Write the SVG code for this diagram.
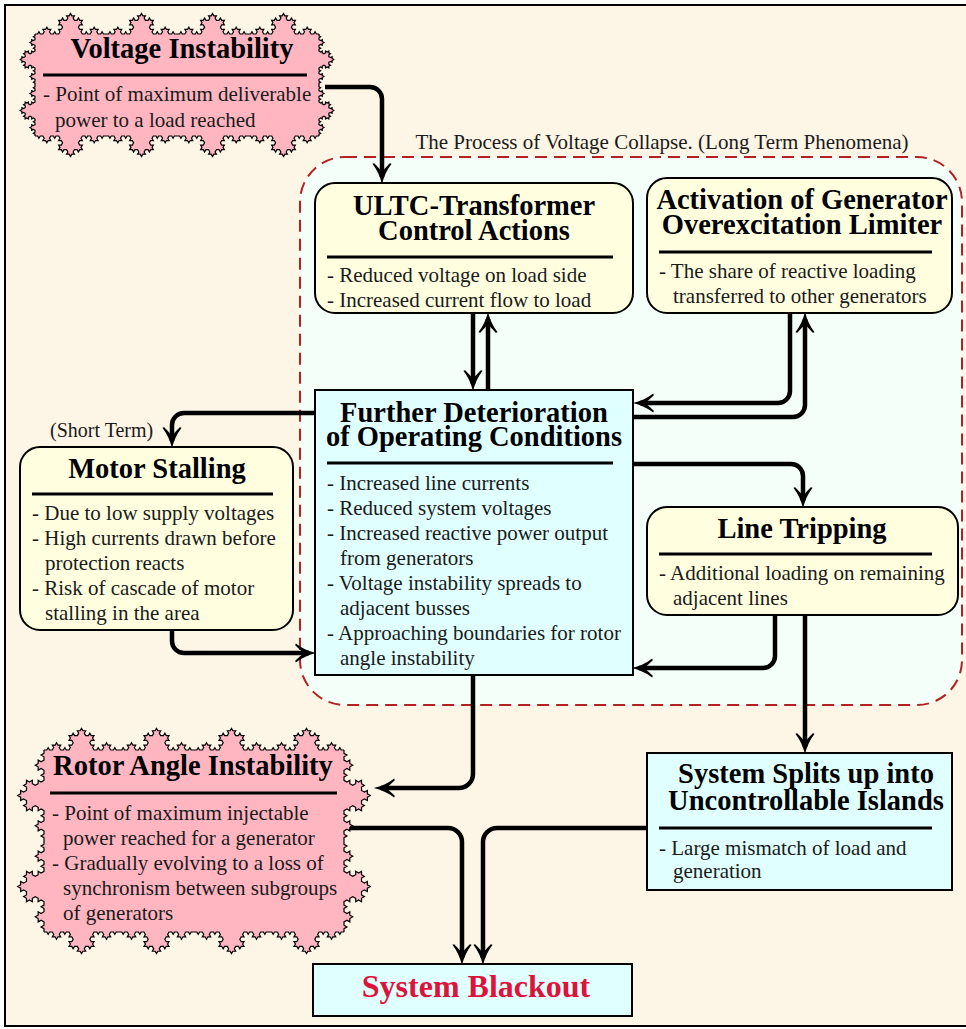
<svg xmlns="http://www.w3.org/2000/svg" xmlns:xlink="http://www.w3.org/1999/xlink" width="966" height="1029" viewBox="0 0 966 1029">
<style>
text{font-family:"Liberation Serif","Times New Roman",serif}
.t{font-weight:bold;font-size:28.5px;fill:#000;text-anchor:middle}
.b{font-size:21px;fill:#1a1a1a}
.rule{stroke:#000;stroke-width:3}
.yel{fill:#ffffe0;stroke:#000;stroke-width:2}
.cyan{fill:#e0ffff;stroke:#000;stroke-width:2}
.pink{fill:#ffb6c1;stroke:#000;stroke-width:1.2}
.pinkfill{fill:#ffb6c1}
.conn path{fill:none;stroke:#000;stroke-width:4.5;marker-end:url(#ah)}
</style>
<defs>
<marker id="ah" markerUnits="userSpaceOnUse" orient="auto" markerWidth="30" markerHeight="30" viewBox="-15 -10 25 20" refX="0" refY="0" overflow="visible">
<path d="M6,0 C0,-1.5 -6,-4 -11,-8 L-11.5,-6.5 Q-7,-2 -4,0 Q-7,2 -11.5,6.5 L-11,8 C-6,4 0,1.5 6,0 Z" fill="#000"/>
</marker>
<path id="koch" vector-effect="non-scaling-stroke" d="M0,0l1,0 .5,-.866 .5,.866 1,0 .5,-.866 -.5,-.866 1,0 .5,-.866 .5,.866 1,0 -.5,.866 .5,.866 1,0 .5,-.866 .5,.866 1,0 .5,-.866 -.5,-.866 1,0 .5,-.866 -.5,-.866 -1,0 .5,-.866 -.5,-.866 1,0 .5,-.866 .5,.866 1,0 .5,-.866 -.5,-.866 1,0 .5,-.866 .5,.866 1,0 -.5,.866 .5,.866 1,0 .5,-.866 .5,.866 1,0 -.5,.866 .5,.866 -1,0 -.5,.866 .5,.866 1,0 -.5,.866 .5,.866 1,0 .5,-.866 .5,.866 1,0 .5,-.866 -.5,-.866 1,0 .5,-.866 .5,.866 1,0 -.5,.866 .5,.866 1,0 .5,-.866 .5,.866 1,0"/>
</defs>

<rect x="5" y="5" width="1000" height="1021" fill="#fdf5e6" stroke="#000" stroke-width="2"/>

<g id="region">
<rect x="300" y="157" width="662" height="548" rx="45" fill="#f5fffa" stroke="#b22222" stroke-width="2" stroke-dasharray="12 7"/>
<text x="662" y="149" font-size="21" fill="#1a1a1a" text-anchor="middle">The Process of Voltage Collapse. (Long Term Phenomena)</text>
</g>

<g id="n-voltage">
<rect class="pinkfill" x="35" y="34" width="284" height="102"/>
<use xlink:href="#koch" class="pink" transform="translate(35,34) scale(2.6296)"/>
<use xlink:href="#koch" class="pink" transform="translate(106,34) scale(2.6296)"/>
<use xlink:href="#koch" class="pink" transform="translate(177,34) scale(2.6296)"/>
<use xlink:href="#koch" class="pink" transform="translate(248,34) scale(2.6296)"/>
<use xlink:href="#koch" class="pink" transform="translate(319,34) rotate(90) scale(1.8889)"/>
<use xlink:href="#koch" class="pink" transform="translate(319,85) rotate(90) scale(1.8889)"/>
<use xlink:href="#koch" class="pink" transform="translate(319,136) rotate(180) scale(2.6296)"/>
<use xlink:href="#koch" class="pink" transform="translate(248,136) rotate(180) scale(2.6296)"/>
<use xlink:href="#koch" class="pink" transform="translate(177,136) rotate(180) scale(2.6296)"/>
<use xlink:href="#koch" class="pink" transform="translate(106,136) rotate(180) scale(2.6296)"/>
<use xlink:href="#koch" class="pink" transform="translate(35,136) rotate(-90) scale(1.8889)"/>
<use xlink:href="#koch" class="pink" transform="translate(35,85) rotate(-90) scale(1.8889)"/>
<text class="t" x="182" y="58">Voltage Instability</text>
<line class="rule" x1="43" y1="75" x2="307" y2="75"/>
<text class="b" x="43" y="101">- Point of maximum deliverable</text>
<text class="b" x="55" y="127">power to a load reached</text>
</g>

<g id="n-ultc">
<rect class="yel" x="315" y="183" width="318" height="130" rx="20"/>
<text class="t" x="474" y="215">ULTC-Transformer</text>
<text class="t" x="474" y="240">Control Actions</text>
<line class="rule" x1="327" y1="257" x2="613" y2="257"/>
<text class="b" x="327" y="282">- Reduced voltage on load side</text>
<text class="b" x="327" y="307">- Increased current flow to load</text>
</g>

<g id="n-ovex">
<rect class="yel" x="647" y="178" width="305" height="135" rx="20"/>
<text class="t" x="802" y="209">Activation of Generator</text>
<text class="t" x="802" y="234">Overexcitation Limiter</text>
<line class="rule" x1="659" y1="252" x2="932" y2="252"/>
<text class="b" x="659" y="278">- The share of reactive loading</text>
<text class="b" x="673" y="303">transferred to other generators</text>
</g>

<g id="n-further">
<rect class="cyan" x="315" y="390" width="318" height="285"/>
<text class="t" x="474" y="422">Further Deterioration</text>
<text class="t" x="474" y="446">of Operating Conditions</text>
<line class="rule" x1="327" y1="463" x2="613" y2="463"/>
<text class="b" x="327" y="490">- Increased line currents</text>
<text class="b" x="327" y="515">- Reduced system voltages</text>
<text class="b" x="327" y="540">- Increased reactive power output</text>
<text class="b" x="340" y="565">from generators</text>
<text class="b" x="327" y="590">- Voltage instability spreads to</text>
<text class="b" x="340" y="615">adjacent busses</text>
<text class="b" x="327" y="640">- Approaching boundaries for rotor</text>
<text class="b" x="340" y="665">angle instability</text>
</g>

<g id="n-motor">
<text class="b" x="50" y="437" style="font-size:20px">(Short Term)</text>
<rect class="yel" x="20" y="447" width="273" height="183" rx="20"/>
<text class="t" x="157" y="478">Motor Stalling</text>
<line class="rule" x1="32" y1="494" x2="273" y2="494"/>
<text class="b" x="32" y="520">- Due to low supply voltages</text>
<text class="b" x="32" y="545">- High currents drawn before</text>
<text class="b" x="45" y="570">protection reacts</text>
<text class="b" x="32" y="595">- Risk of cascade of motor</text>
<text class="b" x="45" y="620">stalling in the area</text>
</g>

<g id="n-line">
<rect class="yel" x="647" y="507" width="311" height="108" rx="20"/>
<text class="t" x="802" y="538">Line Tripping</text>
<line class="rule" x1="659" y1="554" x2="932" y2="554"/>
<text class="b" x="659" y="580">- Additional loading on remaining</text>
<text class="b" x="673" y="605">adjacent lines</text>
</g>

<g id="n-rotor">
<rect class="pinkfill" x="44" y="750" width="300" height="182"/>
<use xlink:href="#koch" class="pink" transform="translate(44,750) scale(2.7778)"/>
<use xlink:href="#koch" class="pink" transform="translate(119,750) scale(2.7778)"/>
<use xlink:href="#koch" class="pink" transform="translate(194,750) scale(2.7778)"/>
<use xlink:href="#koch" class="pink" transform="translate(269,750) scale(2.7778)"/>
<use xlink:href="#koch" class="pink" transform="translate(344,750) rotate(90) scale(3.3704)"/>
<use xlink:href="#koch" class="pink" transform="translate(344,841) rotate(90) scale(3.3704)"/>
<use xlink:href="#koch" class="pink" transform="translate(344,932) rotate(180) scale(2.7778)"/>
<use xlink:href="#koch" class="pink" transform="translate(269,932) rotate(180) scale(2.7778)"/>
<use xlink:href="#koch" class="pink" transform="translate(194,932) rotate(180) scale(2.7778)"/>
<use xlink:href="#koch" class="pink" transform="translate(119,932) rotate(180) scale(2.7778)"/>
<use xlink:href="#koch" class="pink" transform="translate(44,932) rotate(-90) scale(3.3704)"/>
<use xlink:href="#koch" class="pink" transform="translate(44,841) rotate(-90) scale(3.3704)"/>
<text class="t" x="193" y="775">Rotor Angle Instability</text>
<line class="rule" x1="50" y1="793" x2="337" y2="793"/>
<text class="b" x="52" y="820">- Point of maximum injectable</text>
<text class="b" x="63" y="845">power reached for a generator</text>
<text class="b" x="52" y="870">- Gradually evolving to a loss of</text>
<text class="b" x="63" y="895">synchronism between subgroups</text>
<text class="b" x="63" y="920">of generators</text>
</g>

<g id="n-splits">
<rect class="cyan" x="647" y="753" width="305" height="137"/>
<text class="t" x="806" y="783">System Splits up into</text>
<text class="t" x="806" y="810">Uncontrollable Islands</text>
<line class="rule" x1="659" y1="828" x2="932" y2="828"/>
<text class="b" x="659" y="855">- Large mismatch of load and</text>
<text class="b" x="673" y="878">generation</text>
</g>

<g id="n-blackout">
<rect class="cyan" x="313" y="964" width="319" height="52"/>
<text class="t" x="476" y="997" style="fill:#dc143c;font-size:32px">System Blackout</text>
</g>

<g id="connectors" class="conn">
<path d="M325,87 H370 A12,12 0 0 1 382,99 V177"/>
<path d="M473,313 V384"/>
<path d="M488,390 V319"/>
<path d="M790,313 V391 A12,12 0 0 1 778,403 H640"/>
<path d="M633,417 H793 A12,12 0 0 0 805,405 V319"/>
<path d="M315,413 H184 A12,12 0 0 0 172,425 V441"/>
<path d="M172,630 V641 A12,12 0 0 0 184,653 H309"/>
<path d="M633,464 H791 A12,12 0 0 1 803,476 V501"/>
<path d="M775,615 V656 A12,12 0 0 1 763,668 H639"/>
<path d="M805,615 V747"/>
<path d="M473,675 V774 A14,14 0 0 1 459,788 H381"/>
<path d="M350,828 H448 A14,14 0 0 1 462,842 V958"/>
<path d="M647,828 H497 A14,14 0 0 0 483,842 V958"/>
</g>
</svg>
